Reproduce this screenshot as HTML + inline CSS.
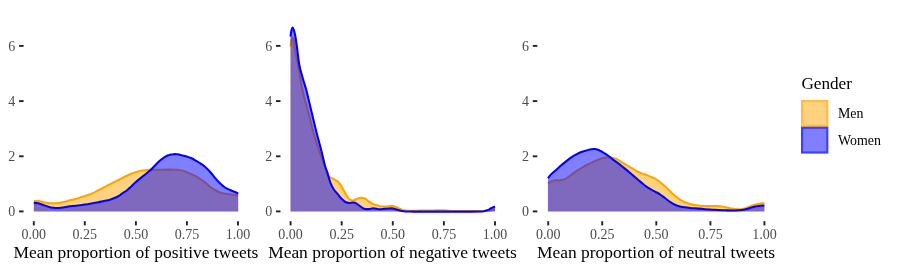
<!DOCTYPE html>
<html><head><meta charset="utf-8"><title>Density</title>
<style>
html,body{margin:0;padding:0;background:#fff;}
body{width:897px;height:270px;overflow:hidden;}
svg{display:block;will-change:transform;}
text{font-family:"Liberation Serif",serif;fill:#000;}
.tl{font-size:14.0px;fill:#4d4d4d;}
.at{font-size:17.43px;}
.lt{font-size:17.2px;}
.ll{font-size:13.9px;}
</style></head><body>
<svg width="897" height="270" viewBox="0 0 897 270">
<rect width="897" height="270" fill="#fff"/>
<path d="M33.8,201.2C34.3,201.1 35.7,200.8 36.7,200.8C37.7,200.8 38.6,201.0 40.0,201.3C41.4,201.6 43.3,202.2 45.0,202.5C46.7,202.8 48.3,203.2 50.0,203.3C51.7,203.4 53.3,203.4 55.0,203.3C56.7,203.2 58.3,203.1 60.0,202.8C61.7,202.5 63.3,202.1 65.0,201.7C66.7,201.3 68.3,200.7 70.0,200.3C71.7,199.9 73.3,199.5 75.0,199.0C76.7,198.6 78.3,198.1 80.0,197.6C81.7,197.1 83.3,196.6 85.0,196.0C86.7,195.5 88.3,194.9 90.0,194.2C91.7,193.6 93.3,192.9 95.0,192.1C96.7,191.2 98.3,190.2 100.0,189.3C101.7,188.5 103.3,187.6 105.0,186.8C106.7,185.9 108.3,185.0 110.0,184.2C111.7,183.3 113.3,182.5 115.0,181.7C116.7,180.8 118.3,180.0 120.0,179.2C121.7,178.3 123.3,177.3 125.0,176.5C126.7,175.6 128.3,174.8 130.0,174.2C131.7,173.5 133.3,172.9 135.0,172.4C136.7,171.9 138.3,171.4 140.0,171.1C141.7,170.8 143.4,170.5 145.0,170.3C146.6,170.1 147.1,169.9 149.3,169.8C151.6,169.7 155.4,169.7 158.5,169.7C161.6,169.7 164.7,169.6 167.8,169.6C170.9,169.6 174.7,169.6 177.0,169.8C179.3,170.0 180.1,170.2 181.7,170.6C183.2,170.9 184.8,171.3 186.3,171.9C187.8,172.5 189.4,173.2 190.9,173.9C192.4,174.6 194.1,175.4 195.6,176.2C197.1,177.0 198.4,177.8 200.0,178.8C201.6,179.8 203.3,181.1 205.0,182.4C206.7,183.7 208.3,185.4 210.0,186.7C211.7,188.0 213.3,189.0 215.0,190.0C216.7,191.0 218.3,191.9 220.0,192.5C221.7,193.1 223.1,193.5 225.0,193.8C226.9,194.2 229.5,194.3 231.7,194.6C233.9,194.9 237.1,195.3 238.2,195.5L238.2,211.4L33.8,211.4Z" fill="#FFA500" fill-opacity="0.5" stroke="none"/>
<path d="M33.8,201.2C34.3,201.1 35.7,200.8 36.7,200.8C37.7,200.8 38.6,201.0 40.0,201.3C41.4,201.6 43.3,202.2 45.0,202.5C46.7,202.8 48.3,203.2 50.0,203.3C51.7,203.4 53.3,203.4 55.0,203.3C56.7,203.2 58.3,203.1 60.0,202.8C61.7,202.5 63.3,202.1 65.0,201.7C66.7,201.3 68.3,200.7 70.0,200.3C71.7,199.9 73.3,199.5 75.0,199.0C76.7,198.6 78.3,198.1 80.0,197.6C81.7,197.1 83.3,196.6 85.0,196.0C86.7,195.5 88.3,194.9 90.0,194.2C91.7,193.6 93.3,192.9 95.0,192.1C96.7,191.2 98.3,190.2 100.0,189.3C101.7,188.5 103.3,187.6 105.0,186.8C106.7,185.9 108.3,185.0 110.0,184.2C111.7,183.3 113.3,182.5 115.0,181.7C116.7,180.8 118.3,180.0 120.0,179.2C121.7,178.3 123.3,177.3 125.0,176.5C126.7,175.6 128.3,174.8 130.0,174.2C131.7,173.5 133.3,172.9 135.0,172.4C136.7,171.9 138.3,171.4 140.0,171.1C141.7,170.8 143.4,170.5 145.0,170.3C146.6,170.1 147.1,169.9 149.3,169.8C151.6,169.7 155.4,169.7 158.5,169.7C161.6,169.7 164.7,169.6 167.8,169.6C170.9,169.6 174.7,169.6 177.0,169.8C179.3,170.0 180.1,170.2 181.7,170.6C183.2,170.9 184.8,171.3 186.3,171.9C187.8,172.5 189.4,173.2 190.9,173.9C192.4,174.6 194.1,175.4 195.6,176.2C197.1,177.0 198.4,177.8 200.0,178.8C201.6,179.8 203.3,181.1 205.0,182.4C206.7,183.7 208.3,185.4 210.0,186.7C211.7,188.0 213.3,189.0 215.0,190.0C216.7,191.0 218.3,191.9 220.0,192.5C221.7,193.1 223.1,193.5 225.0,193.8C226.9,194.2 229.5,194.3 231.7,194.6C233.9,194.9 237.1,195.3 238.2,195.5" fill="none" stroke="#FFA500" stroke-width="2.05" stroke-linejoin="round" stroke-linecap="butt"/>
<path d="M33.8,202.8C34.5,202.9 36.7,202.9 38.3,203.3C39.9,203.7 41.6,204.4 43.3,205.0C45.0,205.6 46.6,206.2 48.3,206.7C50.0,207.2 51.6,207.6 53.3,207.8C55.0,208.0 56.6,208.1 58.3,208.0C60.0,207.9 61.3,207.8 63.3,207.5C65.2,207.2 67.8,206.6 70.0,206.3C72.2,206.0 74.5,205.8 76.7,205.6C78.9,205.3 81.1,205.1 83.3,204.8C85.5,204.5 87.5,204.3 90.0,203.8C92.5,203.4 95.8,202.7 98.3,202.2C100.8,201.7 103.0,201.3 105.0,200.8C107.0,200.4 108.3,200.2 110.0,199.7C111.7,199.2 113.3,198.6 115.0,197.8C116.7,197.1 118.3,196.1 120.0,195.1C121.7,194.0 123.3,192.9 125.0,191.7C126.7,190.4 128.3,189.0 130.0,187.6C131.7,186.1 133.3,184.3 135.0,182.8C136.7,181.3 138.3,180.0 140.0,178.6C141.7,177.2 143.3,175.9 145.0,174.6C146.7,173.3 148.3,172.1 150.0,170.6C151.7,169.1 153.3,167.2 155.0,165.5C156.7,163.8 158.3,161.9 160.0,160.5C161.7,159.1 163.5,157.7 165.0,156.8C166.5,155.9 167.8,155.4 169.2,155.0C170.6,154.5 171.9,154.3 173.3,154.2C174.7,154.0 176.1,154.2 177.5,154.3C178.9,154.5 180.2,154.9 181.7,155.3C183.2,155.6 185.0,155.9 186.7,156.4C188.4,156.9 190.0,157.5 191.7,158.3C193.4,159.1 195.3,160.4 196.7,161.2C198.1,162.0 198.6,162.3 200.0,163.2C201.4,164.1 203.3,165.4 205.0,166.8C206.7,168.3 208.3,169.9 210.0,171.7C211.7,173.5 213.3,176.0 215.0,177.9C216.7,179.8 218.3,181.7 220.0,183.3C221.7,184.9 223.3,186.4 225.0,187.5C226.7,188.6 228.3,189.2 230.0,190.0C231.7,190.8 233.6,191.4 235.0,192.0C236.4,192.6 237.7,193.3 238.2,193.6L238.2,211.4L33.8,211.4Z" fill="#0000FF" fill-opacity="0.5" stroke="none"/>
<path d="M33.8,202.8C34.5,202.9 36.7,202.9 38.3,203.3C39.9,203.7 41.6,204.4 43.3,205.0C45.0,205.6 46.6,206.2 48.3,206.7C50.0,207.2 51.6,207.6 53.3,207.8C55.0,208.0 56.6,208.1 58.3,208.0C60.0,207.9 61.3,207.8 63.3,207.5C65.2,207.2 67.8,206.6 70.0,206.3C72.2,206.0 74.5,205.8 76.7,205.6C78.9,205.3 81.1,205.1 83.3,204.8C85.5,204.5 87.5,204.3 90.0,203.8C92.5,203.4 95.8,202.7 98.3,202.2C100.8,201.7 103.0,201.3 105.0,200.8C107.0,200.4 108.3,200.2 110.0,199.7C111.7,199.2 113.3,198.6 115.0,197.8C116.7,197.1 118.3,196.1 120.0,195.1C121.7,194.0 123.3,192.9 125.0,191.7C126.7,190.4 128.3,189.0 130.0,187.6C131.7,186.1 133.3,184.3 135.0,182.8C136.7,181.3 138.3,180.0 140.0,178.6C141.7,177.2 143.3,175.9 145.0,174.6C146.7,173.3 148.3,172.1 150.0,170.6C151.7,169.1 153.3,167.2 155.0,165.5C156.7,163.8 158.3,161.9 160.0,160.5C161.7,159.1 163.5,157.7 165.0,156.8C166.5,155.9 167.8,155.4 169.2,155.0C170.6,154.5 171.9,154.3 173.3,154.2C174.7,154.0 176.1,154.2 177.5,154.3C178.9,154.5 180.2,154.9 181.7,155.3C183.2,155.6 185.0,155.9 186.7,156.4C188.4,156.9 190.0,157.5 191.7,158.3C193.4,159.1 195.3,160.4 196.7,161.2C198.1,162.0 198.6,162.3 200.0,163.2C201.4,164.1 203.3,165.4 205.0,166.8C206.7,168.3 208.3,169.9 210.0,171.7C211.7,173.5 213.3,176.0 215.0,177.9C216.7,179.8 218.3,181.7 220.0,183.3C221.7,184.9 223.3,186.4 225.0,187.5C226.7,188.6 228.3,189.2 230.0,190.0C231.7,190.8 233.6,191.4 235.0,192.0C236.4,192.6 237.7,193.3 238.2,193.6" fill="none" stroke="#0000FF" stroke-width="2.05" stroke-linejoin="round" stroke-linecap="butt"/>
<path d="M290.5,46.6C290.6,45.5 291.0,41.5 291.4,40.0C291.8,38.5 292.4,37.3 292.8,37.6C293.2,37.9 293.6,39.8 294.0,42.0C294.4,44.2 294.6,47.2 295.3,51.0C296.0,54.8 296.8,58.2 298.0,64.7C299.2,71.2 301.1,83.3 302.5,90.0C303.9,96.7 305.0,100.0 306.3,105.0C307.6,110.0 308.9,115.1 310.2,120.0C311.5,124.9 312.5,129.4 314.0,134.5C315.5,139.6 317.4,145.8 319.0,150.5C320.6,155.2 322.1,159.3 323.5,163.0C324.9,166.7 326.3,170.2 327.2,172.5C328.1,174.8 328.1,175.6 329.0,176.6C329.9,177.6 331.5,177.8 332.9,178.6C334.3,179.4 336.3,180.3 337.6,181.4C338.9,182.5 339.7,183.6 340.7,185.1C341.7,186.6 342.8,188.8 343.8,190.6C344.8,192.4 345.9,194.5 346.9,196.0C347.9,197.5 349.0,198.9 350.0,199.6C351.0,200.3 351.9,200.6 353.1,200.4C354.3,200.3 355.7,199.3 357.0,198.8C358.3,198.3 359.6,197.8 360.9,197.7C362.2,197.6 363.5,197.9 364.8,198.5C366.1,199.1 367.3,200.4 368.7,201.3C370.1,202.3 371.8,203.4 373.3,204.1C374.9,204.8 377.0,205.3 378.0,205.6C379.0,205.9 377.9,205.9 379.1,206.1C380.3,206.2 383.0,206.5 385.2,206.5C387.4,206.5 390.3,205.7 392.3,205.9C394.3,206.1 395.5,206.9 397.4,207.6C399.3,208.3 401.5,209.7 403.5,210.2C405.5,210.7 406.9,210.7 409.6,210.8C412.4,210.9 415.8,210.7 420.0,210.6C424.2,210.5 430.8,210.2 435.0,210.2C439.2,210.1 442.2,210.2 445.0,210.3C447.8,210.4 449.5,210.9 452.0,211.0C454.5,211.1 454.8,211.1 460.0,211.1C465.2,211.1 478.2,211.1 483.0,211.1C487.8,211.1 487.5,211.0 489.0,210.8C490.5,210.6 491.0,210.3 492.0,210.0C493.0,209.7 494.5,209.2 495.0,209.0L495.0,211.4L290.5,211.4Z" fill="#FFA500" fill-opacity="0.5" stroke="none"/>
<path d="M290.5,46.6C290.6,45.5 291.0,41.5 291.4,40.0C291.8,38.5 292.4,37.3 292.8,37.6C293.2,37.9 293.6,39.8 294.0,42.0C294.4,44.2 294.6,47.2 295.3,51.0C296.0,54.8 296.8,58.2 298.0,64.7C299.2,71.2 301.1,83.3 302.5,90.0C303.9,96.7 305.0,100.0 306.3,105.0C307.6,110.0 308.9,115.1 310.2,120.0C311.5,124.9 312.5,129.4 314.0,134.5C315.5,139.6 317.4,145.8 319.0,150.5C320.6,155.2 322.1,159.3 323.5,163.0C324.9,166.7 326.3,170.2 327.2,172.5C328.1,174.8 328.1,175.6 329.0,176.6C329.9,177.6 331.5,177.8 332.9,178.6C334.3,179.4 336.3,180.3 337.6,181.4C338.9,182.5 339.7,183.6 340.7,185.1C341.7,186.6 342.8,188.8 343.8,190.6C344.8,192.4 345.9,194.5 346.9,196.0C347.9,197.5 349.0,198.9 350.0,199.6C351.0,200.3 351.9,200.6 353.1,200.4C354.3,200.3 355.7,199.3 357.0,198.8C358.3,198.3 359.6,197.8 360.9,197.7C362.2,197.6 363.5,197.9 364.8,198.5C366.1,199.1 367.3,200.4 368.7,201.3C370.1,202.3 371.8,203.4 373.3,204.1C374.9,204.8 377.0,205.3 378.0,205.6C379.0,205.9 377.9,205.9 379.1,206.1C380.3,206.2 383.0,206.5 385.2,206.5C387.4,206.5 390.3,205.7 392.3,205.9C394.3,206.1 395.5,206.9 397.4,207.6C399.3,208.3 401.5,209.7 403.5,210.2C405.5,210.7 406.9,210.7 409.6,210.8C412.4,210.9 415.8,210.7 420.0,210.6C424.2,210.5 430.8,210.2 435.0,210.2C439.2,210.1 442.2,210.2 445.0,210.3C447.8,210.4 449.5,210.9 452.0,211.0C454.5,211.1 454.8,211.1 460.0,211.1C465.2,211.1 478.2,211.1 483.0,211.1C487.8,211.1 487.5,211.0 489.0,210.8C490.5,210.6 491.0,210.3 492.0,210.0C493.0,209.7 494.5,209.2 495.0,209.0" fill="none" stroke="#FFA500" stroke-width="2.05" stroke-linejoin="round" stroke-linecap="butt"/>
<path d="M290.5,36.6C290.6,35.6 291.0,32.0 291.4,30.5C291.8,29.0 292.3,27.6 292.7,27.6C293.1,27.6 293.6,29.4 294.0,30.5C294.4,31.6 294.6,32.5 294.9,34.0C295.2,35.5 295.6,37.4 295.9,39.5C296.2,41.6 296.3,42.3 296.9,46.5C297.5,50.7 298.3,59.5 299.3,64.7C300.3,70.0 301.5,73.8 302.7,78.0C303.9,82.2 305.1,85.5 306.3,90.0C307.5,94.5 308.7,100.0 309.9,105.0C311.1,110.0 312.3,115.0 313.5,120.0C314.7,125.0 315.9,130.0 317.2,135.0C318.5,140.0 319.9,145.0 321.2,150.0C322.5,155.0 323.8,161.3 324.8,165.0C325.8,168.7 326.7,170.5 327.3,172.3C327.9,174.2 327.8,174.4 328.4,176.2C328.9,178.0 329.7,180.9 330.6,183.1C331.5,185.3 332.5,187.5 333.7,189.3C334.9,191.1 336.3,192.4 337.6,193.9C338.9,195.4 340.1,197.2 341.4,198.6C342.7,199.9 344.0,201.3 345.3,202.0C346.6,202.7 347.9,202.9 349.2,203.0C350.5,203.1 351.9,202.4 353.1,202.5C354.3,202.6 355.0,202.7 356.2,203.3C357.4,203.9 358.8,205.2 360.1,206.1C361.4,207.0 362.6,208.2 364.0,208.7C365.4,209.2 367.1,209.1 368.7,209.1C370.2,209.0 371.8,208.3 373.3,208.3C374.9,208.3 376.7,208.9 378.0,209.1C379.3,209.2 378.9,209.4 381.1,209.2C383.3,209.1 388.6,208.2 391.3,208.2C394.0,208.3 395.4,209.3 397.4,209.8C399.4,210.3 401.4,211.0 403.5,211.2C405.6,211.5 407.2,211.5 410.0,211.6C412.8,211.7 413.3,211.6 420.0,211.6C426.7,211.6 440.0,211.6 450.0,211.6C460.0,211.6 474.2,211.7 480.0,211.6C485.8,211.5 483.2,211.3 484.5,211.0C485.8,210.7 486.8,210.4 488.0,209.9C489.2,209.4 490.3,208.6 491.5,208.0C492.7,207.4 494.4,206.7 495.0,206.4L495.0,211.4L290.5,211.4Z" fill="#0000FF" fill-opacity="0.5" stroke="none"/>
<path d="M290.5,36.6C290.6,35.6 291.0,32.0 291.4,30.5C291.8,29.0 292.3,27.6 292.7,27.6C293.1,27.6 293.6,29.4 294.0,30.5C294.4,31.6 294.6,32.5 294.9,34.0C295.2,35.5 295.6,37.4 295.9,39.5C296.2,41.6 296.3,42.3 296.9,46.5C297.5,50.7 298.3,59.5 299.3,64.7C300.3,70.0 301.5,73.8 302.7,78.0C303.9,82.2 305.1,85.5 306.3,90.0C307.5,94.5 308.7,100.0 309.9,105.0C311.1,110.0 312.3,115.0 313.5,120.0C314.7,125.0 315.9,130.0 317.2,135.0C318.5,140.0 319.9,145.0 321.2,150.0C322.5,155.0 323.8,161.3 324.8,165.0C325.8,168.7 326.7,170.5 327.3,172.3C327.9,174.2 327.8,174.4 328.4,176.2C328.9,178.0 329.7,180.9 330.6,183.1C331.5,185.3 332.5,187.5 333.7,189.3C334.9,191.1 336.3,192.4 337.6,193.9C338.9,195.4 340.1,197.2 341.4,198.6C342.7,199.9 344.0,201.3 345.3,202.0C346.6,202.7 347.9,202.9 349.2,203.0C350.5,203.1 351.9,202.4 353.1,202.5C354.3,202.6 355.0,202.7 356.2,203.3C357.4,203.9 358.8,205.2 360.1,206.1C361.4,207.0 362.6,208.2 364.0,208.7C365.4,209.2 367.1,209.1 368.7,209.1C370.2,209.0 371.8,208.3 373.3,208.3C374.9,208.3 376.7,208.9 378.0,209.1C379.3,209.2 378.9,209.4 381.1,209.2C383.3,209.1 388.6,208.2 391.3,208.2C394.0,208.3 395.4,209.3 397.4,209.8C399.4,210.3 401.4,211.0 403.5,211.2C405.6,211.5 407.2,211.5 410.0,211.6C412.8,211.7 413.3,211.6 420.0,211.6C426.7,211.6 440.0,211.6 450.0,211.6C460.0,211.6 474.2,211.7 480.0,211.6C485.8,211.5 483.2,211.3 484.5,211.0C485.8,210.7 486.8,210.4 488.0,209.9C489.2,209.4 490.3,208.6 491.5,208.0C492.7,207.4 494.4,206.7 495.0,206.4" fill="none" stroke="#0000FF" stroke-width="2.05" stroke-linejoin="round" stroke-linecap="butt"/>
<path d="M547.9,183.4C548.5,183.1 550.2,182.0 551.3,181.4C552.4,180.9 553.5,180.5 554.7,180.3C556.0,180.2 557.4,180.5 558.8,180.4C560.2,180.3 561.6,180.2 563.0,179.8C564.4,179.3 565.8,178.6 567.2,177.8C568.6,176.9 569.8,175.8 571.3,174.8C572.8,173.7 574.6,172.3 576.3,171.2C578.0,170.0 579.6,169.0 581.3,168.1C583.0,167.1 584.6,166.1 586.3,165.2C588.0,164.4 589.6,163.7 591.3,162.9C593.0,162.1 594.3,161.3 596.3,160.5C598.2,159.7 601.2,158.5 603.0,158.0C604.8,157.5 605.8,157.4 607.2,157.3C608.6,157.2 609.8,157.2 611.3,157.5C612.8,157.8 614.6,158.2 616.3,158.9C618.0,159.6 619.6,160.8 621.3,161.8C623.0,162.8 624.6,163.8 626.3,164.8C628.0,165.8 629.6,166.9 631.3,167.9C633.0,168.9 634.6,169.9 636.3,170.8C638.0,171.7 639.6,172.4 641.3,173.1C643.0,173.8 644.6,174.3 646.3,175.0C648.0,175.7 649.8,176.4 651.3,177.0C652.8,177.6 653.5,177.9 655.0,178.7C656.5,179.5 658.3,180.7 660.0,182.0C661.7,183.3 663.3,184.7 665.0,186.3C666.7,187.8 668.3,189.7 670.0,191.3C671.7,192.9 673.3,194.5 675.0,195.9C676.7,197.3 678.3,198.6 680.0,199.6C681.7,200.6 683.3,201.5 685.0,202.2C686.7,202.9 688.3,203.4 690.0,203.9C691.7,204.4 693.0,204.7 695.0,205.0C697.0,205.3 699.5,205.6 701.7,205.8C703.9,206.0 705.8,206.1 708.3,206.1C710.8,206.1 714.2,206.0 716.7,206.1C719.2,206.2 721.1,206.3 723.3,206.7C725.5,207.0 727.8,207.8 730.0,208.2C732.2,208.6 734.5,209.2 736.7,209.3C738.9,209.4 741.4,209.2 743.3,208.8C745.2,208.4 746.6,207.6 748.3,207.0C750.0,206.4 751.6,205.8 753.3,205.3C755.0,204.8 756.4,204.2 758.3,203.8C760.1,203.4 763.4,203.1 764.4,203.0L764.4,211.4L547.9,211.4Z" fill="#FFA500" fill-opacity="0.5" stroke="none"/>
<path d="M547.9,183.4C548.5,183.1 550.2,182.0 551.3,181.4C552.4,180.9 553.5,180.5 554.7,180.3C556.0,180.2 557.4,180.5 558.8,180.4C560.2,180.3 561.6,180.2 563.0,179.8C564.4,179.3 565.8,178.6 567.2,177.8C568.6,176.9 569.8,175.8 571.3,174.8C572.8,173.7 574.6,172.3 576.3,171.2C578.0,170.0 579.6,169.0 581.3,168.1C583.0,167.1 584.6,166.1 586.3,165.2C588.0,164.4 589.6,163.7 591.3,162.9C593.0,162.1 594.3,161.3 596.3,160.5C598.2,159.7 601.2,158.5 603.0,158.0C604.8,157.5 605.8,157.4 607.2,157.3C608.6,157.2 609.8,157.2 611.3,157.5C612.8,157.8 614.6,158.2 616.3,158.9C618.0,159.6 619.6,160.8 621.3,161.8C623.0,162.8 624.6,163.8 626.3,164.8C628.0,165.8 629.6,166.9 631.3,167.9C633.0,168.9 634.6,169.9 636.3,170.8C638.0,171.7 639.6,172.4 641.3,173.1C643.0,173.8 644.6,174.3 646.3,175.0C648.0,175.7 649.8,176.4 651.3,177.0C652.8,177.6 653.5,177.9 655.0,178.7C656.5,179.5 658.3,180.7 660.0,182.0C661.7,183.3 663.3,184.7 665.0,186.3C666.7,187.8 668.3,189.7 670.0,191.3C671.7,192.9 673.3,194.5 675.0,195.9C676.7,197.3 678.3,198.6 680.0,199.6C681.7,200.6 683.3,201.5 685.0,202.2C686.7,202.9 688.3,203.4 690.0,203.9C691.7,204.4 693.0,204.7 695.0,205.0C697.0,205.3 699.5,205.6 701.7,205.8C703.9,206.0 705.8,206.1 708.3,206.1C710.8,206.1 714.2,206.0 716.7,206.1C719.2,206.2 721.1,206.3 723.3,206.7C725.5,207.0 727.8,207.8 730.0,208.2C732.2,208.6 734.5,209.2 736.7,209.3C738.9,209.4 741.4,209.2 743.3,208.8C745.2,208.4 746.6,207.6 748.3,207.0C750.0,206.4 751.6,205.8 753.3,205.3C755.0,204.8 756.4,204.2 758.3,203.8C760.1,203.4 763.4,203.1 764.4,203.0" fill="none" stroke="#FFA500" stroke-width="2.05" stroke-linejoin="round" stroke-linecap="butt"/>
<path d="M547.9,178.1C548.5,177.4 549.9,175.5 551.3,174.1C552.7,172.7 554.6,171.2 556.3,169.7C558.0,168.2 559.6,166.6 561.3,165.2C563.0,163.8 564.6,162.4 566.3,161.1C568.0,159.8 569.6,158.4 571.3,157.3C573.0,156.2 574.6,155.3 576.3,154.4C578.0,153.5 579.6,152.7 581.3,152.0C583.0,151.3 584.6,150.8 586.3,150.4C588.0,149.9 589.9,149.5 591.3,149.2C592.7,149.0 593.6,149.0 594.7,149.1C595.8,149.2 597.0,149.5 598.0,149.8C599.0,150.1 599.7,150.6 600.5,151.0C601.3,151.4 601.8,151.6 603.0,152.3C604.2,153.1 606.3,154.3 608.0,155.5C609.7,156.7 611.3,158.3 613.0,159.6C614.7,160.9 616.3,161.9 618.0,163.2C619.7,164.4 621.3,165.8 623.0,167.1C624.7,168.4 626.3,169.7 628.0,171.1C629.7,172.5 631.3,174.0 633.0,175.4C634.7,176.8 636.3,178.3 638.0,179.7C639.7,181.1 641.3,182.6 643.0,183.9C644.7,185.3 646.0,186.4 648.0,187.7C650.0,189.0 653.0,190.5 655.0,191.6C657.0,192.7 658.3,193.3 660.0,194.4C661.7,195.5 663.3,196.8 665.0,198.0C666.7,199.3 668.3,200.8 670.0,201.9C671.7,203.0 673.3,204.0 675.0,204.8C676.7,205.6 678.3,206.1 680.0,206.5C681.7,206.9 683.3,207.1 685.0,207.3C686.7,207.6 688.3,207.8 690.0,208.0C691.7,208.2 692.5,208.1 695.0,208.3C697.5,208.5 701.7,209.0 705.0,209.2C708.3,209.4 711.7,209.5 715.0,209.7C718.3,209.9 721.7,210.2 725.0,210.3C728.3,210.4 732.2,210.6 735.0,210.5C737.8,210.4 739.8,210.2 741.7,210.0C743.7,209.8 745.0,209.4 746.7,209.0C748.4,208.6 750.0,207.9 751.7,207.5C753.4,207.1 754.6,206.6 756.7,206.3C758.8,206.0 763.1,205.6 764.4,205.5L764.4,211.4L547.9,211.4Z" fill="#0000FF" fill-opacity="0.5" stroke="none"/>
<path d="M547.9,178.1C548.5,177.4 549.9,175.5 551.3,174.1C552.7,172.7 554.6,171.2 556.3,169.7C558.0,168.2 559.6,166.6 561.3,165.2C563.0,163.8 564.6,162.4 566.3,161.1C568.0,159.8 569.6,158.4 571.3,157.3C573.0,156.2 574.6,155.3 576.3,154.4C578.0,153.5 579.6,152.7 581.3,152.0C583.0,151.3 584.6,150.8 586.3,150.4C588.0,149.9 589.9,149.5 591.3,149.2C592.7,149.0 593.6,149.0 594.7,149.1C595.8,149.2 597.0,149.5 598.0,149.8C599.0,150.1 599.7,150.6 600.5,151.0C601.3,151.4 601.8,151.6 603.0,152.3C604.2,153.1 606.3,154.3 608.0,155.5C609.7,156.7 611.3,158.3 613.0,159.6C614.7,160.9 616.3,161.9 618.0,163.2C619.7,164.4 621.3,165.8 623.0,167.1C624.7,168.4 626.3,169.7 628.0,171.1C629.7,172.5 631.3,174.0 633.0,175.4C634.7,176.8 636.3,178.3 638.0,179.7C639.7,181.1 641.3,182.6 643.0,183.9C644.7,185.3 646.0,186.4 648.0,187.7C650.0,189.0 653.0,190.5 655.0,191.6C657.0,192.7 658.3,193.3 660.0,194.4C661.7,195.5 663.3,196.8 665.0,198.0C666.7,199.3 668.3,200.8 670.0,201.9C671.7,203.0 673.3,204.0 675.0,204.8C676.7,205.6 678.3,206.1 680.0,206.5C681.7,206.9 683.3,207.1 685.0,207.3C686.7,207.6 688.3,207.8 690.0,208.0C691.7,208.2 692.5,208.1 695.0,208.3C697.5,208.5 701.7,209.0 705.0,209.2C708.3,209.4 711.7,209.5 715.0,209.7C718.3,209.9 721.7,210.2 725.0,210.3C728.3,210.4 732.2,210.6 735.0,210.5C737.8,210.4 739.8,210.2 741.7,210.0C743.7,209.8 745.0,209.4 746.7,209.0C748.4,208.6 750.0,207.9 751.7,207.5C753.4,207.1 754.6,206.6 756.7,206.3C758.8,206.0 763.1,205.6 764.4,205.5" fill="none" stroke="#0000FF" stroke-width="2.05" stroke-linejoin="round" stroke-linecap="butt"/>
<line x1="19.1" x2="23.6" y1="211.4" y2="211.4" stroke="#222" stroke-width="1.90"/>
<text x="15.3" y="216.0" text-anchor="end" class="tl">0</text>
<line x1="19.1" x2="23.6" y1="156.3" y2="156.3" stroke="#222" stroke-width="1.90"/>
<text x="15.3" y="160.9" text-anchor="end" class="tl">2</text>
<line x1="19.1" x2="23.6" y1="101.1" y2="101.1" stroke="#222" stroke-width="1.90"/>
<text x="15.3" y="105.7" text-anchor="end" class="tl">4</text>
<line x1="19.1" x2="23.6" y1="45.9" y2="45.9" stroke="#222" stroke-width="1.90"/>
<text x="15.3" y="50.5" text-anchor="end" class="tl">6</text>
<line x1="276.0" x2="280.5" y1="211.4" y2="211.4" stroke="#222" stroke-width="1.90"/>
<text x="272.2" y="216.0" text-anchor="end" class="tl">0</text>
<line x1="276.0" x2="280.5" y1="156.3" y2="156.3" stroke="#222" stroke-width="1.90"/>
<text x="272.2" y="160.9" text-anchor="end" class="tl">2</text>
<line x1="276.0" x2="280.5" y1="101.1" y2="101.1" stroke="#222" stroke-width="1.90"/>
<text x="272.2" y="105.7" text-anchor="end" class="tl">4</text>
<line x1="276.0" x2="280.5" y1="45.9" y2="45.9" stroke="#222" stroke-width="1.90"/>
<text x="272.2" y="50.5" text-anchor="end" class="tl">6</text>
<line x1="532.8" x2="537.3" y1="211.4" y2="211.4" stroke="#222" stroke-width="1.90"/>
<text x="529.0" y="216.0" text-anchor="end" class="tl">0</text>
<line x1="532.8" x2="537.3" y1="156.3" y2="156.3" stroke="#222" stroke-width="1.90"/>
<text x="529.0" y="160.9" text-anchor="end" class="tl">2</text>
<line x1="532.8" x2="537.3" y1="101.1" y2="101.1" stroke="#222" stroke-width="1.90"/>
<text x="529.0" y="105.7" text-anchor="end" class="tl">4</text>
<line x1="532.8" x2="537.3" y1="45.9" y2="45.9" stroke="#222" stroke-width="1.90"/>
<text x="529.0" y="50.5" text-anchor="end" class="tl">6</text>
<line x1="33.8" x2="33.8" y1="221.2" y2="225.4" stroke="#222" stroke-width="1.90"/>
<text x="33.8" y="238.6" text-anchor="middle" class="tl">0.00</text>
<line x1="84.8" x2="84.8" y1="221.2" y2="225.4" stroke="#222" stroke-width="1.90"/>
<text x="84.8" y="238.6" text-anchor="middle" class="tl">0.25</text>
<line x1="135.9" x2="135.9" y1="221.2" y2="225.4" stroke="#222" stroke-width="1.90"/>
<text x="135.9" y="238.6" text-anchor="middle" class="tl">0.50</text>
<line x1="186.9" x2="186.9" y1="221.2" y2="225.4" stroke="#222" stroke-width="1.90"/>
<text x="186.9" y="238.6" text-anchor="middle" class="tl">0.75</text>
<line x1="238.0" x2="238.0" y1="221.2" y2="225.4" stroke="#222" stroke-width="1.90"/>
<text x="238.0" y="238.6" text-anchor="middle" class="tl">1.00</text>
<text x="135.9" y="258.0" text-anchor="middle" class="at">Mean proportion of positive tweets</text>
<line x1="290.6" x2="290.6" y1="221.2" y2="225.4" stroke="#222" stroke-width="1.90"/>
<text x="290.6" y="238.6" text-anchor="middle" class="tl">0.00</text>
<line x1="341.7" x2="341.7" y1="221.2" y2="225.4" stroke="#222" stroke-width="1.90"/>
<text x="341.7" y="238.6" text-anchor="middle" class="tl">0.25</text>
<line x1="392.8" x2="392.8" y1="221.2" y2="225.4" stroke="#222" stroke-width="1.90"/>
<text x="392.8" y="238.6" text-anchor="middle" class="tl">0.50</text>
<line x1="443.9" x2="443.9" y1="221.2" y2="225.4" stroke="#222" stroke-width="1.90"/>
<text x="443.9" y="238.6" text-anchor="middle" class="tl">0.75</text>
<line x1="495.0" x2="495.0" y1="221.2" y2="225.4" stroke="#222" stroke-width="1.90"/>
<text x="495.0" y="238.6" text-anchor="middle" class="tl">1.00</text>
<text x="392.5" y="258.0" text-anchor="middle" class="at">Mean proportion of negative tweets</text>
<line x1="548.2" x2="548.2" y1="221.2" y2="225.4" stroke="#222" stroke-width="1.90"/>
<text x="548.2" y="238.6" text-anchor="middle" class="tl">0.00</text>
<line x1="602.2" x2="602.2" y1="221.2" y2="225.4" stroke="#222" stroke-width="1.90"/>
<text x="602.2" y="238.6" text-anchor="middle" class="tl">0.25</text>
<line x1="656.3" x2="656.3" y1="221.2" y2="225.4" stroke="#222" stroke-width="1.90"/>
<text x="656.3" y="238.6" text-anchor="middle" class="tl">0.50</text>
<line x1="710.4" x2="710.4" y1="221.2" y2="225.4" stroke="#222" stroke-width="1.90"/>
<text x="710.4" y="238.6" text-anchor="middle" class="tl">0.75</text>
<line x1="764.4" x2="764.4" y1="221.2" y2="225.4" stroke="#222" stroke-width="1.90"/>
<text x="764.4" y="238.6" text-anchor="middle" class="tl">1.00</text>
<text x="656.0" y="258.0" text-anchor="middle" class="at">Mean proportion of neutral tweets</text>
<text x="801.4" y="89.1" class="lt">Gender</text>
<rect x="801.00" y="100.00" width="27.30" height="26.75" fill="#FFA500" fill-opacity="0.5"/>
<rect x="802.05" y="101.05" width="25.20" height="24.65" fill="none" stroke="#FFA500" stroke-opacity="0.5" stroke-width="2.10"/>
<text x="838.0" y="118.1" class="ll">Men</text>
<rect x="801.00" y="126.75" width="27.30" height="26.75" fill="#0000FF" fill-opacity="0.5"/>
<rect x="802.05" y="127.80" width="25.20" height="24.65" fill="none" stroke="#0000FF" stroke-opacity="0.5" stroke-width="2.10"/>
<text x="838.0" y="144.8" class="ll">Women</text>
</svg>
</body></html>
